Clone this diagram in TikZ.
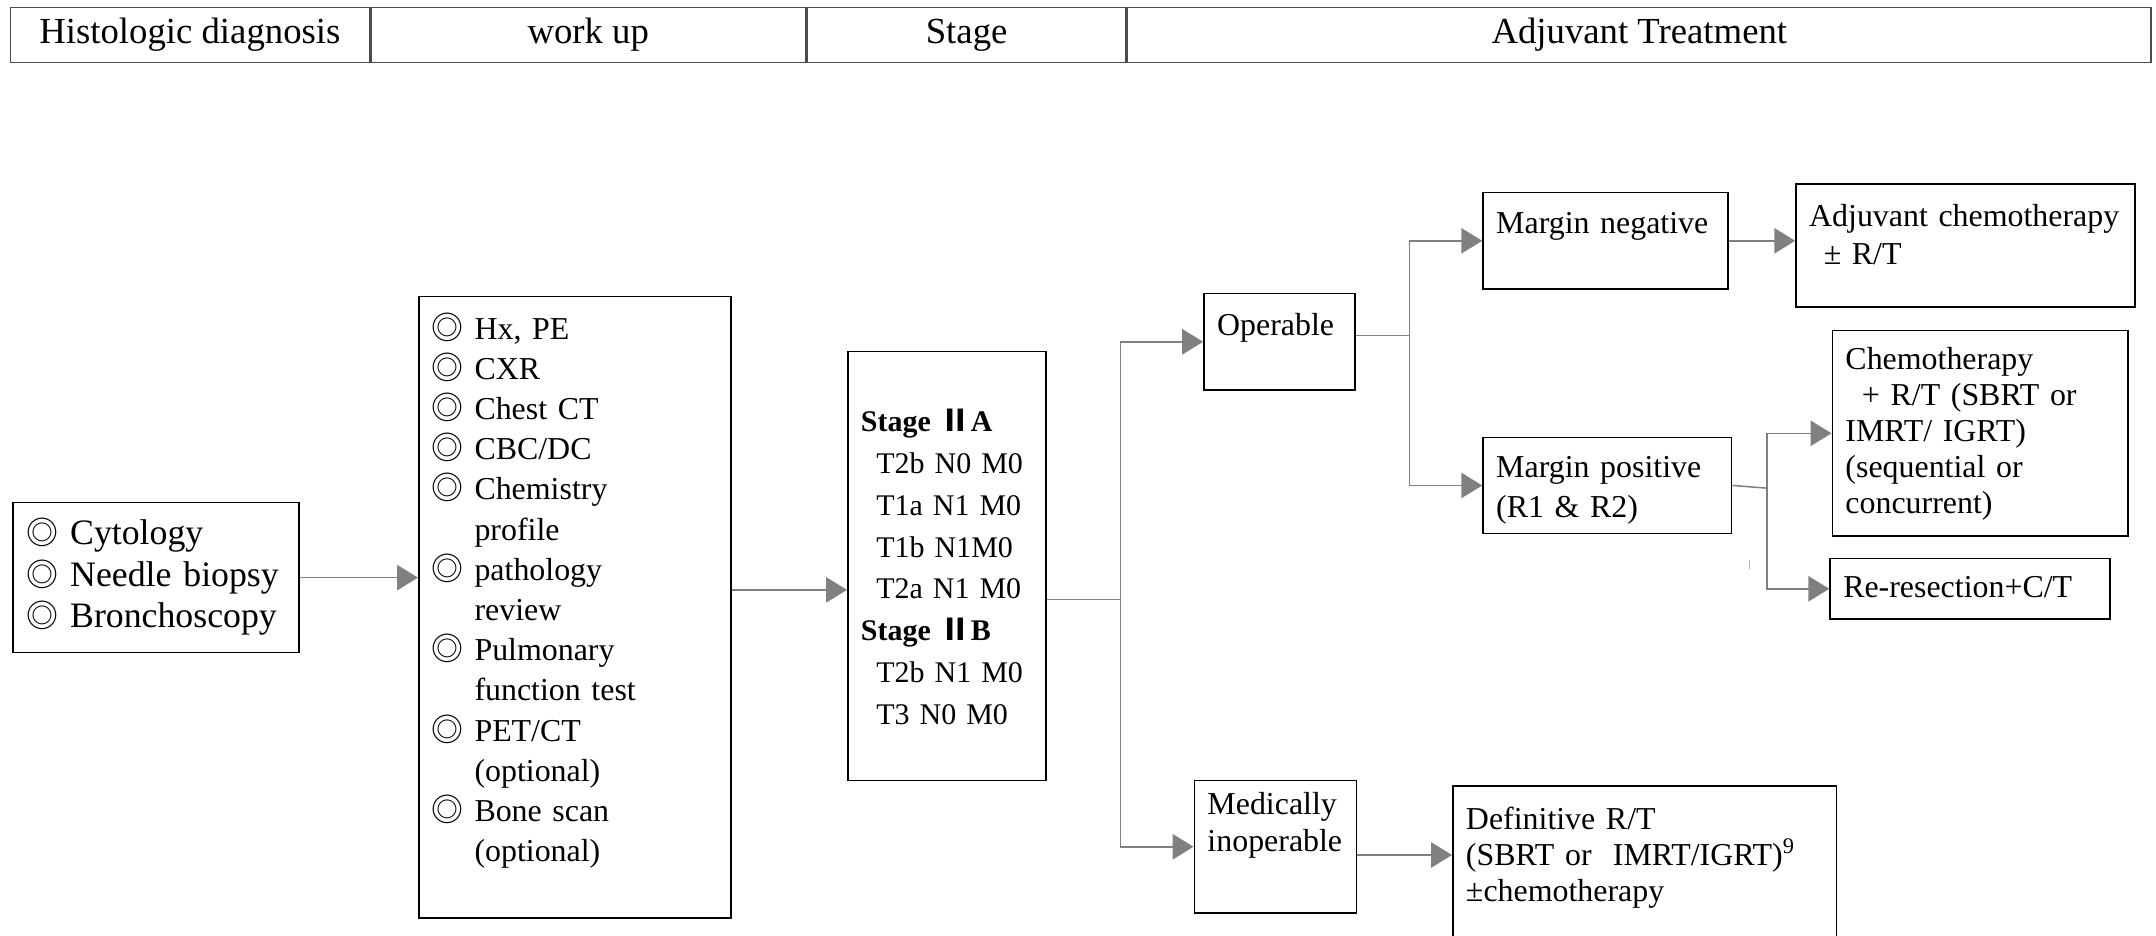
\documentclass[tikz,border=0pt]{standalone}
\usepackage{fontspec}
\setmainfont{Liberation Serif}
\newfontfamily\cjkfont{Noto Sans CJK SC}
\usetikzlibrary{arrows.meta,positioning}

\newcommand{\ringmark}{{\cjkfont\fontsize{16.5}{20}\selectfont ◎}}
\newcommand{\itm}{\ringmark\ }
\newcommand{\ringgap}{\hphantom{\ringmark\ }}
\newcommand{\romtwo}{{\cjkfont\bfseries Ⅱ}}
\newcommand{\bodyfont}[1]{\fontsize{16.5}{#1}\selectfont}

\begin{document}
\begin{tikzpicture}[x=0.025cm, y=-0.025cm,
	box/.style={draw, line width=0.8pt, anchor=north west, inner xsep=0.24cm, inner ysep=0pt, align=left,
		execute at begin node={\hyphenpenalty=10000\exhyphenpenalty=10000\hfuzz=20pt}},
	head/.style={draw=black!70, line width=0.8pt, anchor=north west, minimum height=1cm, inner sep=0pt,
		font=\fontsize{19}{23}\selectfont},
	line/.style={draw=gray, line width=0.8pt},
	arr/.style={line, -{Triangle[length=0.38cm, width=0.46cm]}}]
			%%%	Help Lines
%			\draw [thin, help lines, step=100] (0,0) grid (1568,680);
			\useasboundingbox (0,0) rectangle (1568,680);
			\clip (0,0) rectangle (1568,680);
			%%%	Header
			\node[head, minimum width=6.525cm] (hdiag) at (7,5) {Histologic diagnosis};
			\node[head, minimum width=7.9cm, right=0pt of hdiag] (hwork) {work up};
			\node[head, minimum width=5.8cm, right=0pt of hwork] (hstage) {Stage};
			\node[head, minimum width=18.6cm, right=0pt of hstage] (htreat) {Adjuvant Treatment};
			%%%	Boxes
			\node[box, font=\fontsize{18.5}{21.5}\selectfont, text width=4.72cm, text height=0.765cm, text depth=1.96cm] (cyto) at (9,365)
				{\itm Cytology\\ \itm Needle biopsy\\ \itm Bronchoscopy};
			\node[box, font=\bodyfont{20.8pt}, text width=5.195cm, text height=0.775cm, text depth=10.525cm] (work) at (304,215)
				{\itm Hx, PE\\ \itm CXR\\ \itm Chest CT\\ \itm CBC/DC\\ \itm Chemistry\\ \ringgap profile\\ \itm pathology\\ \ringgap review\\
				\itm Pulmonary\\ \ringgap function test\\ \itm PET/CT\\ \ringgap (optional)\\ \itm Bone scan\\ \ringgap (optional)};
			\node[box, font=\fontsize{15.5}{21.6}\selectfont, text width=3.12cm, text height=1.4625cm, text depth=6.3375cm] (stage) at (616,255)
				{\textbf{Stage \romtwo A}\\ \hspace*{0.28cm}T2b N0 M0\\ \hspace*{0.28cm}T1a N1 M0\\ \hspace*{0.28cm}T1b N1M0\\ \hspace*{0.28cm}T2a N1 M0\\
				\textbf{Stage \romtwo B}\\ \hspace*{0.28cm}T2b N1 M0\\ \hspace*{0.28cm}T3 N0 M0};
			\node[box, font=\bodyfont{20pt}, text width=2.27cm, text height=0.765cm, text depth=0.985cm] (oper) at (875,213) {Operable};
			\node[box, font=\bodyfont{19.2pt}, text width=2.47cm, text height=0.625cm, text depth=1.7875cm] (med) at (868,567)
				{Medically\\ inoperable};
			\node[box, font=\bodyfont{20pt}, text width=3.97cm, text height=0.74cm, text depth=1.0175cm] (mneg) at (1078,139.4)
				{Margin negative};
			\node[box, font=\bodyfont{20.6pt}, text width=4.04cm, text height=0.7275cm, text depth=1.0175cm] (mpos) at (1078,317.6)
				{Margin positive\\ (R1 \& R2)};
			\node[box, font=\bodyfont{19.3pt}, text width=5.68cm, text height=0.7775cm, text depth=1.4525cm] (adj) at (1305.6,133.3)
				{Adjuvant chemotherapy\\ \hspace*{0.265cm}± R/T};
			\node[box, font=\bodyfont{18.6pt}, text width=4.895cm, text height=0.715cm, text depth=3.0225cm] (chemo) at (1332,239.8)
				{Chemotherapy\\ \hspace*{0.3cm}+ R/T (SBRT or\\ IMRT/ IGRT)\\ (sequential or\\ concurrent)};
			\node[box, font=\bodyfont{19pt}, text width=4.61cm, text height=0.71cm, text depth=0.3925cm] (rere) at (1330.4,405.6)
				{Re-resection+C/T};
			\node[box, font=\bodyfont{18.5pt}, text width=6.495cm, text height=0.8cm, text depth=2.425cm] (def) at (1056,571)
				{Definitive R/T\\ (SBRT or~~IMRT/IGRT)\textsuperscript{9}\\ ±chemotherapy};
			%%%	Connectors
			\coordinate (ywork) at (0,429);
			\coordinate (jstage) at (815,436);
			\coordinate (joper) at (1025,244);
			\coordinate (jmpos) at (1285,355);
			\draw[arr] (cyto.east) -- (cyto.east -| work.west);
			\draw[arr] (work.east |- ywork) -- (stage.west |- ywork);
			\draw[line] (stage.east |- jstage) -- (jstage);
			\draw[arr] (jstage) |- (oper.west);
			\draw[arr] (jstage) |- (med.west);
			\draw[line] (oper.east |- joper) -- (joper);
			\draw[arr] (joper) |- (mneg.west);
			\draw[arr] (joper) |- (mpos.west);
			\draw[arr] (mneg.east) -- (mneg.east -| adj.west);
			\draw[line] (mpos.east) -- (jmpos);
			\draw[arr] (jmpos) |- (chemo.west);
			\draw[arr] (jmpos) |- (rere.west);
			\draw[arr] ([yshift=-0.15cm]med.east) -- ([yshift=-0.15cm]med.east -| def.west);
			\draw[line, draw=gray!60, line width=0.5pt] (1272,407) -- (1272,414);
		\end{tikzpicture}
\end{document}
